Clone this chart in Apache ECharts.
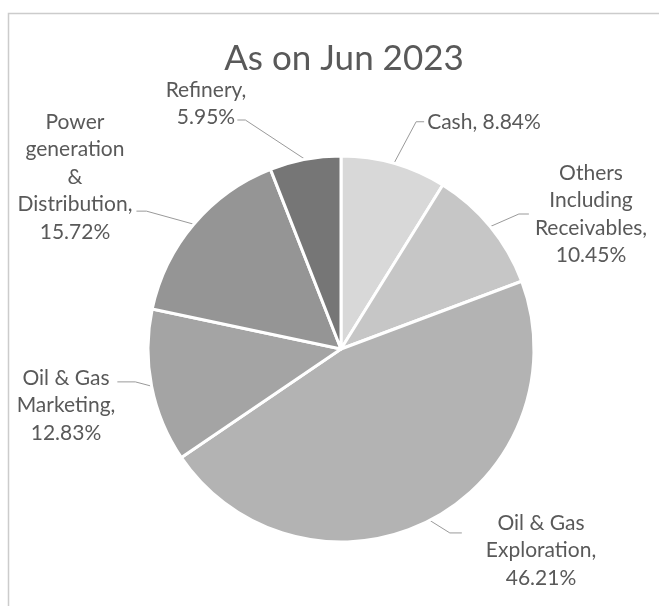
<!DOCTYPE html>
<html>
<head>
<meta charset="utf-8">
<title>As on Jun 2023</title>
<script src="https://cdn.jsdelivr.net/npm/echarts@6/dist/echarts.min.js"></script>
<style>
  html, body { margin: 0; padding: 0; background: #ffffff; }
  #chart { width: 659px; height: 606px; }
</style>
</head>
<body>
<div id="chart"></div>
<script>
// Segment names (line breaks as they are printed in the labels)
const categories = [
  'Cash',
  'Others\nIncluding\nReceivables',
  'Oil & Gas\nExploration',
  'Oil & Gas\nMarketing',
  'Power\ngeneration\n&\nDistribution',
  'Refinery'
];
// Share of each segment, percent
const shares = [8.84, 10.45, 46.21, 12.83, 15.72, 5.95];
// What separates the name from the percentage in each label
const nameValueSeparators = [' ', '\n', '\n', '\n', '\n', '\n'];
// Slice fills, light to dark
const sliceColors = ['#d8d8d8', '#c6c6c6', '#b3b3b3', '#a4a4a4', '#959595', '#767676'];

const LABEL_FONT = 21;
const LABEL_LINE_H = 27.5;

// Where each label block sits (centre x, top y) and how its leader line attaches:
// side of the block, which text line (0-based), gap from block edge, horizontal elbow length
const labelSpots = [
  { cx: 484, top: 108, side: 'left',  line: 0,    gap: 3,  elbow: 8 },
  { cx: 591, top: 159, side: 'left',  line: 1.5,  gap: 6,  elbow: 10 },
  { cx: 541, top: 509, side: 'left',  line: 0.37, gap: 24, elbow: 12 },
  { cx: 66,  top: 364, side: 'right', line: 0.15, gap: 2,  elbow: 18 },
  { cx: 75,  top: 108, side: 'right', line: 3.25, gap: 4,  elbow: 10 },
  { cx: 206, top: 76,  side: 'right', line: 1.1,  gap: -9, elbow: 8 }
];

const pieData = categories.map((name, i) => ({
  name: name,
  value: shares[i],
  itemStyle: { color: sliceColors[i] }
}));

const chart = echarts.init(document.getElementById('chart'), null, { renderer: 'canvas' });

chart.setOption({
  animation: false,
  backgroundColor: '#ffffff',
  title: {
    text: 'As on Jun 2023',
    left: 339,
    top: 36,
    textAlign: 'center',
    textStyle: {
      fontFamily: 'Lato',
      fontSize: 35,
      fontWeight: 'normal',
      color: '#595959'
    }
  },
  graphic: [
    {
      type: 'rect',
      silent: true,
      z: -10,
      shape: { x: 8.5, y: 13.5, width: 700, height: 700 },
      style: { fill: 'none', stroke: '#cccccc', lineWidth: 1.5 }
    }
  ],
  series: [
    {
      type: 'pie',
      center: [341, 349],
      radius: 193,
      startAngle: 90,
      clockwise: true,
      avoidLabelOverlap: false,
      silent: true,
      itemStyle: { borderColor: '#ffffff', borderWidth: 3 },
      label: {
        show: true,
        position: 'outside',
        fontFamily: 'Lato',
        fontSize: LABEL_FONT,
        lineHeight: LABEL_LINE_H,
        color: '#595959',
        align: 'center',
        formatter: function (p) {
          return p.name + ',' + nameValueSeparators[p.dataIndex] + p.value.toFixed(2) + '%';
        }
      },
      labelLine: {
        show: true,
        length: 20,
        length2: 10,
        smooth: false,
        lineStyle: { color: '#9a9a9a', width: 1 }
      },
      labelLayout: function (params) {
        const s = labelSpots[params.dataIndex];
        const w = params.labelRect.width;
        const left = s.cx - w / 2;
        const right = s.cx + w / 2;
        const ey = s.top + (s.line + 0.5) * LABEL_LINE_H;
        const ex = s.side === 'left' ? left - s.gap : right + s.gap;
        const bx = s.side === 'left' ? ex - s.elbow : ex + s.elbow;
        return {
          x: s.cx,
          y: s.top,
          align: 'center',
          verticalAlign: 'top',
          labelLinePoints: [params.labelLinePoints[0], [bx, ey], [ex, ey]]
        };
      },
      data: pieData
    }
  ]
});
</script>
</body>
</html>
